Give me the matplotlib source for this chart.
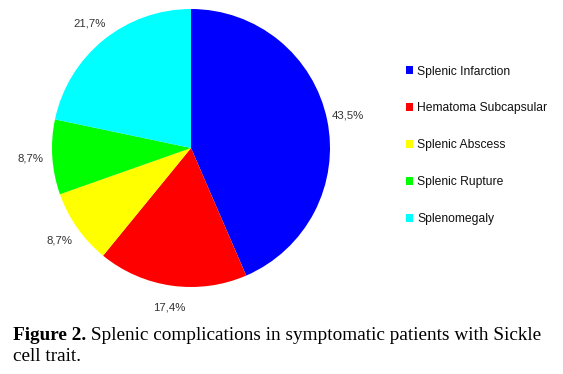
import matplotlib
matplotlib.use("Agg")
import matplotlib.pyplot as plt

categories = ["Splenic Infarction", "Hematoma Subcapsular", "Splenic Abscess",
              "Splenic Rupture", "Splenomegaly"]
values = [43.5, 17.4, 8.7, 8.7, 21.7]
colors = ["#0000FF", "#FF0000", "#FFFF00", "#00FF00", "#00FFFF"]
caption_bold = "Figure 2."
caption_rest = " Splenic complications in symptomatic patients with Sickle"
caption_line2 = "cell trait."

W, H = 563, 374
fig = plt.figure(figsize=(W / 100, H / 100), dpi=100)

# pie axes: centre at (191,148) px, radius 139 px
cx, cy, r = 191, 148, 139
ax = fig.add_axes([0, (H - 2 * cy) / H, 2 * cx / W, 2 * cy / H])
wedges, texts, autotexts = ax.pie(
    values, colors=colors, startangle=90, counterclock=False,
    autopct=lambda p: f"{p:.1f}%".replace(".", ","), pctdistance=1.155,
    wedgeprops=dict(linewidth=0),
    textprops=dict(family="Liberation Sans", fontsize=8.2, color="#333333"))
ax.set_xlim(-cx / r, cx / r)
ax.set_ylim(-cy / r, cy / r)
ax.set_aspect("equal")
ax.axis("off")

leg = fig.legend(wedges, categories, loc="upper left",
                 bbox_to_anchor=(406 / W, 1 - 65.5 / H),
                 frameon=False, borderpad=0, borderaxespad=0,
                 handlelength=0.6, handleheight=0.6, handletextpad=0.35,
                 labelspacing=2.06,
                 prop=dict(family="Liberation Sans", size=8.7))
for t in leg.get_texts():
    t.set_color("#111111")

fs = 13.85
t1 = fig.text(13 / W, 1 - 340 / H, caption_bold, family="Liberation Serif",
              fontsize=fs, fontweight="bold", va="baseline", ha="left")
fig.text(13 / W, 1 - 361 / H, caption_line2, family="Liberation Serif",
         fontsize=fs, va="baseline", ha="left")
ax.annotate(caption_rest, xy=(1, 0), xycoords=t1, va="bottom", ha="left",
            family="Liberation Serif", fontsize=fs, annotation_clip=False)

fig.savefig("out.png", dpi=100)
